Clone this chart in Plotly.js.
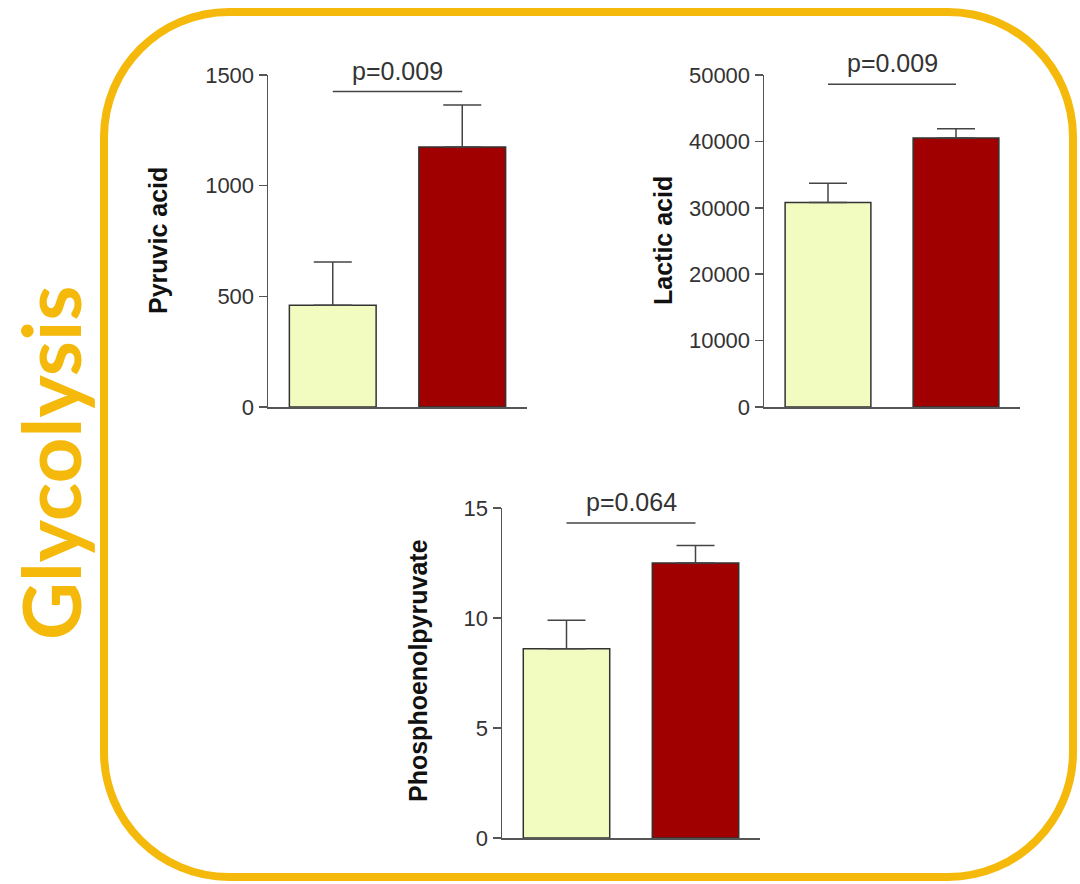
<!DOCTYPE html>
<html>
<head>
<meta charset="utf-8">
<script src="https://cdn.plot.ly/plotly-3.0.1.min.js"></script>
<style>html,body{margin:0;padding:0;background:#fff;}#chart{width:1080px;height:884px;}</style>
</head>
<body>
<div id="chart"></div>
<script>
// ---- data ----
const groups = ["Control", "Patient"];
const pyruvicMean = [460, 1175];
const pyruvicErr = [195, 190];
const lacticMean = [30800, 40500];
const lacticErr = [2900, 1400];
const pepMean = [8.6, 12.5];
const pepErr = [1.3, 0.8];
const pLabels = ["p=0.009", "p=0.009", "p=0.064"];
const yTitles = ["Pyruvic acid", "Lactic acid", "Phosphoenolpyruvate"];
const pyruvicTicks = [0, 500, 1000, 1500];
const lacticTicks = [0, 10000, 20000, 30000, 40000, 50000];
const pepTicks = [0, 5, 10, 15];
const sectionTitle = "Glycolysis";

// ---- styling ----
const W = 1080, H = 884;
const px = x => x / W;
const py = y => 1 - y / H;
const barColors = ["#F3FCC0", "#A00000"];
const axisColor = "#555555";
const gold = "#F4B90A";

function barTrace(means, errs, xa, ya) {
  return {
    type: "bar", x: groups, y: means, xaxis: xa, yaxis: ya,
    width: 0.67,
    marker: {color: barColors, line: {color: "#333333", width: 1.5}},
    error_y: {type: "data", array: errs, arrayminus: errs.map(() => 0), symmetric: false,
      color: "#444444", thickness: 1.5, width: 19},
    showlegend: false, hoverinfo: "skip"
  };
}

const data = [
  barTrace(pyruvicMean, pyruvicErr, "x", "y"),
  barTrace(lacticMean, lacticErr, "x2", "y2"),
  barTrace(pepMean, pepErr, "x3", "y3")
];

function xAx(l, r, anchor) {
  return {domain: [px(l), px(r)], anchor: anchor, type: "category", range: [-0.5, 1.5],
    showline: true, linecolor: axisColor, linewidth: 1.5, showticklabels: false,
    ticks: "", showgrid: false, zeroline: false, fixedrange: true};
}
function yAx(top, bottom, anchor, maxv, ticks) {
  return {domain: [py(bottom), py(top)], anchor: anchor, range: [0, maxv],
    tickvals: ticks, ticktext: ticks.map(String),
    showline: true, linecolor: axisColor, linewidth: 1.5,
    ticks: "outside", ticklen: 8, tickwidth: 1.5, tickcolor: axisColor,
    tickfont: {family: "Liberation Sans, Arial, sans-serif", size: 22, color: "#333333"},
    showgrid: false, zeroline: false, fixedrange: true};
}

// bracket heights (annotation placement, in axis units)
const bracketY = [1425, 48600, 14.32];
const axPairs = [["x", "y"], ["x2", "y2"], ["x3", "y3"]];

const shapes = [];
const annotations = [];
axPairs.forEach((p, i) => {
  shapes.push({type: "line", xref: p[0], yref: p[1], x0: 0, x1: 1, y0: bracketY[i], y1: bracketY[i],
    line: {color: "#444444", width: 1.5}});
  annotations.push({xref: p[0], yref: p[1], x: 0.5, y: bracketY[i], yanchor: "bottom", yshift: 5,
    text: pLabels[i], showarrow: false,
    font: {family: "Liberation Sans, Arial, sans-serif", size: 25, color: "#333333"}});
});

// y titles
const titlePos = [[158, 241], [663, 241], [418, 671]];
yTitles.forEach((t, i) => {
  annotations.push({xref: "paper", yref: "paper", x: px(titlePos[i][0]), y: py(titlePos[i][1]),
    xanchor: "center", yanchor: "middle", textangle: -90, text: "<b>" + t + "</b>", showarrow: false,
    font: {family: "Liberation Sans, Arial, sans-serif", size: 25, color: "#111111"}});
});

// section title
annotations.push({xref: "paper", yref: "paper", x: px(50), y: py(463), xanchor: "center", yanchor: "middle",
  textangle: -90, text: "<b>" + sectionTitle + "</b>", showarrow: false,
  font: {family: "Lato, sans-serif", size: 80, color: gold}});

// rounded border
(function () {
  const L = 104, R = 1073, T = 12, B = 877, r = 125, k = 0.5523 * r;
  const P = (x, y) => px(x).toFixed(5) + "," + py(y).toFixed(5);
  const d = "M" + P(L + r, T) + " L" + P(R - r, T) +
    " C" + P(R - r + k, T) + " " + P(R, T + r - k) + " " + P(R, T + r) +
    " L" + P(R, B - r) +
    " C" + P(R, B - r + k) + " " + P(R - r + k, B) + " " + P(R - r, B) +
    " L" + P(L + r, B) +
    " C" + P(L + r - k, B) + " " + P(L, B - r + k) + " " + P(L, B - r) +
    " L" + P(L, T + r) +
    " C" + P(L, T + r - k) + " " + P(L + r - k, T) + " " + P(L + r, T) + " Z";
  shapes.push({type: "path", xref: "paper", yref: "paper", path: d, layer: "below",
    line: {color: gold, width: 8}});
})();

const layout = {
  width: W, height: H, margin: {l: 0, r: 0, t: 0, b: 0},
  paper_bgcolor: "#ffffff", plot_bgcolor: "rgba(0,0,0,0)",
  showlegend: false, bargap: 0.33,
  xaxis: xAx(268, 527, "y"),
  yaxis: yAx(75, 407, "x", 1500, pyruvicTicks),
  xaxis2: xAx(764, 1020, "y2"),
  yaxis2: yAx(75, 407, "x2", 50000, lacticTicks),
  xaxis3: xAx(502, 760, "y3"),
  yaxis3: yAx(508, 838, "x3", 15, pepTicks),
  shapes: shapes, annotations: annotations
};

Plotly.newPlot("chart", data, layout, {displayModeBar: false, staticPlot: true});
</script>
</body>
</html>
